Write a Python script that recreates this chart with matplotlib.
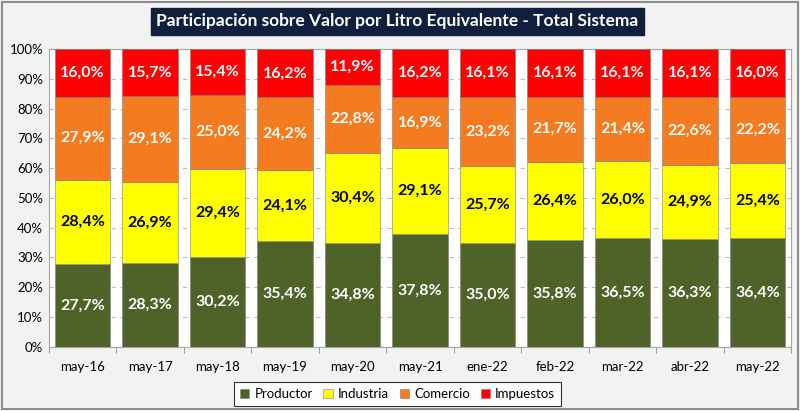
import numpy as np
import matplotlib.pyplot as plt
from matplotlib.patches import Rectangle

# datos
periodos = ["may-16", "may-17", "may-18", "may-19", "may-20", "may-21",
            "ene-22", "feb-22", "mar-22", "abr-22", "may-22"]
productor = [27.7, 28.3, 30.2, 35.4, 34.8, 37.8, 35.0, 35.8, 36.5, 36.3, 36.4]
industria = [28.4, 26.9, 29.4, 24.1, 30.4, 29.1, 25.7, 26.4, 26.0, 24.9, 25.4]
comercio = [27.9, 29.1, 25.0, 24.2, 22.8, 16.9, 23.2, 21.7, 21.4, 22.6, 22.2]
impuestos = [16.0, 15.7, 15.4, 16.2, 11.9, 16.2, 16.1, 16.1, 16.1, 16.1, 16.0]

series = [
    ("Productor", productor, "#4f6228", "white"),
    ("Industria", industria, "#ffff00", "black"),
    ("Comercio", comercio, "#f47b20", "white"),
    ("Impuestos", impuestos, "#ff0000", "white"),
]

plt.rcParams["font.family"] = ["Lato", "DejaVu Sans"]

fig = plt.figure(figsize=(8, 4.11), dpi=100, facecolor="#f2f2f2")
fig.patches.append(Rectangle((0.002, 0.004), 0.995, 0.99, transform=fig.transFigure,
                             fill=False, edgecolor="#8c8c8c", linewidth=1.5))
ax = fig.add_axes([0.061, 0.156, 0.928, 0.725])

x = np.arange(len(periodos))
base = np.zeros(len(periodos))
for nombre, vals, color, tcolor in series:
    vals = np.array(vals)
    ax.bar(x, vals, bottom=base, width=0.82, color=color, label=nombre,
           edgecolor="#7f7f7f", linewidth=0.4, zorder=3)
    for xi, b, v in zip(x, base, vals):
        ax.text(xi, b + v / 2, f"{v:.1f}%".replace(".", ","), ha="center", va="center",
                color=tcolor, fontsize=11.5, fontweight="bold", zorder=4)
    base = base + vals

ax.set_xlim(-0.5, len(periodos) - 0.5)
ax.set_ylim(0, 100)
ax.set_yticks(np.arange(0, 101, 10))
ax.set_yticklabels([f"{v}%" for v in range(0, 101, 10)], fontsize=9.5)
ax.set_xticks(x)
ax.set_xticklabels(periodos, fontsize=9.5)
ax.set_xticks(np.arange(-0.5, len(periodos), 1), minor=True)
ax.tick_params(axis="x", which="major", length=0, pad=10)
ax.tick_params(axis="x", which="minor", length=4, color="#8c8c8c")
ax.tick_params(axis="y", length=0, pad=4)
ax.grid(axis="y", linestyle=(0, (4, 4)), color="#bfbfbf", linewidth=0.8, zorder=0)
for s in ax.spines.values():
    s.set_color("#a6a6a6")
    s.set_linewidth(0.8)

fig.text(0.497, 0.948, "Participación sobre Valor por Litro Equivalente - Total Sistema",
         ha="center", va="center", color="white", fontsize=12.5, fontweight="bold",
         bbox=dict(boxstyle="square,pad=0.3", facecolor="#0f1f3d", edgecolor="#0f1f3d"))

leg = fig.legend(loc="center", bbox_to_anchor=(0.497, 0.041), ncol=4, fontsize=9.5,
                 frameon=True, fancybox=False, edgecolor="black", handlelength=0.7,
                 handleheight=0.7, handletextpad=0.4, columnspacing=0.8,
                 borderpad=0.45)
leg.get_frame().set_linewidth(0.8)

fig.savefig("out.png", dpi=100, facecolor=fig.get_facecolor())
